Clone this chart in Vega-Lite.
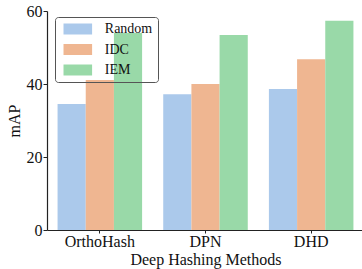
{
  "$schema": "https://vega.github.io/schema/vega-lite/v6.json",
  "autosize": "none",
  "padding": {"left": 47, "top": 11, "right": 0, "bottom": 39},
  "width": 317,
  "height": 219,
  "config": {
    "font": "Liberation Serif",
    "view": {"stroke": null},
    "axis": {"grid": false, "domainColor": "#222", "tickColor": "#222", "labelColor": "#111", "titleColor": "#111", "titleFontWeight": "normal", "domainWidth": 1.2, "tickWidth": 1}
  },
  "data": {
    "values": [
      {"method": "OrthoHash", "series": "Random", "mAP": 34.5},
      {"method": "OrthoHash", "series": "IDC", "mAP": 41.1},
      {"method": "OrthoHash", "series": "IEM", "mAP": 54.0},
      {"method": "DPN", "series": "Random", "mAP": 37.2},
      {"method": "DPN", "series": "IDC", "mAP": 40.0},
      {"method": "DPN", "series": "IEM", "mAP": 53.4},
      {"method": "DHD", "series": "Random", "mAP": 38.6},
      {"method": "DHD", "series": "IDC", "mAP": 46.8},
      {"method": "DHD", "series": "IEM", "mAP": 57.3}
    ]
  },
  "mark": {"type": "bar"},
  "encoding": {
    "x": {
      "field": "method", "type": "nominal", "sort": ["OrthoHash", "DPN", "DHD"],
      "scale": {"paddingInner": 0.2, "paddingOuter": 0.1},
      "axis": {"title": "Deep Hashing Methods", "labelAngle": 0, "labelFontSize": 16, "titleFontSize": 16, "tickSize": 3, "labelPadding": 0, "titlePadding": 2}
    },
    "xOffset": {"field": "series", "type": "nominal", "sort": ["Random", "IDC", "IEM"], "scale": {"paddingInner": 0, "paddingOuter": 0}},
    "y": {
      "field": "mAP", "type": "quantitative",
      "scale": {"domain": [0, 60], "nice": false},
      "axis": {"title": "mAP", "values": [0, 20, 40, 60], "labelFontSize": 16, "titleFontSize": 16, "tickSize": 4, "labelPadding": 1, "titlePadding": 4}
    },
    "color": {
      "field": "series", "type": "nominal", "sort": ["Random", "IDC", "IEM"],
      "scale": {"domain": ["Random", "IDC", "IEM"], "range": ["#abc9eb", "#efb691", "#99d9a8"]},
      "legend": {
        "title": null,
        "orient": "none", "legendX": 8, "legendY": 6,
        "strokeColor": "#555", "cornerRadius": 3, "padding": 5,
        "symbolType": "M-2.6,-1H2.6V1H-2.6Z", "symbolSize": 121, "symbolStrokeWidth": 0, "symbolOpacity": 1,
        "symbolOffset": 10.8, "labelOffset": 20,
        "labelFont": "Liberation Serif", "labelFontSize": 14, "labelColor": "#111", "rowPadding": 6.5
      }
    }
  }
}
